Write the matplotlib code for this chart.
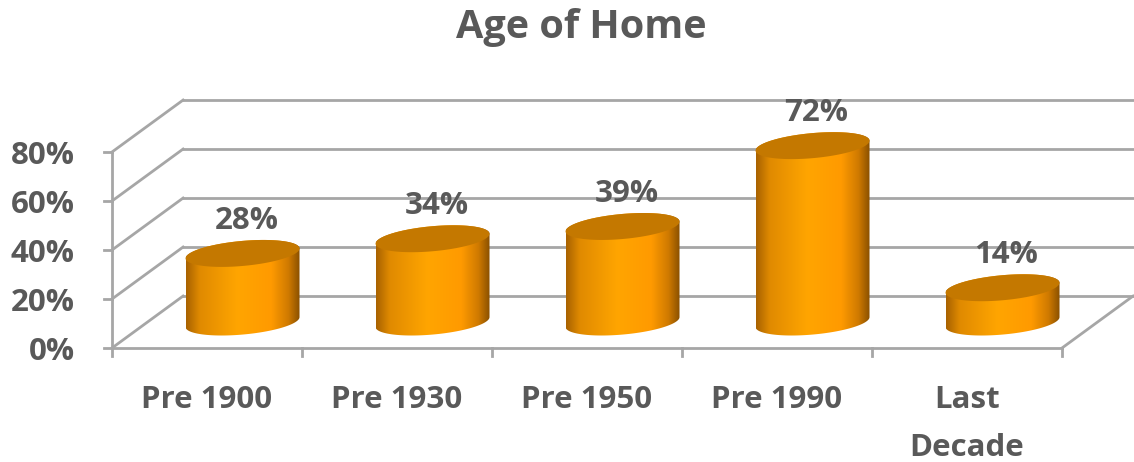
import numpy as np
import matplotlib.pyplot as plt
from matplotlib.patches import Polygon
from matplotlib.colors import LinearSegmentedColormap

# data
categories = ['Pre 1900', 'Pre 1930', 'Pre 1950', 'Pre 1990', 'Last\nDecade']
values = [28, 34, 39, 72, 14]
yticks = [0, 20, 40, 60, 80]
ytick_labels = ['0%', '20%', '40%', '60%', '80%']

plt.rcParams['font.family'] = ['Open Sans', 'DejaVu Sans']
TEXT = '#595959'
GRID = '#a6a6a6'
FS = 22.5

# oblique depth offset of the back wall (category units, percent units)
DX, DY = 0.374, 21.2
# cylinder cross-section: half width, skew, half height
RX, SKEW, RY = 0.279, 0.11, 5.5
PX = 1 / 2.45   # one pixel in percent units

side_cmap = LinearSegmentedColormap.from_list('side', [
    (0.0, '#a86200'), (0.12, '#e08a00'), (0.45, '#ffa500'),
    (0.75, '#ff9a00'), (0.9, '#cf7a00'), (1.0, '#8a5000')])
TOP = '#c47800'

fig = plt.figure(figsize=(11.34, 4.62), dpi=100)
ax = fig.add_axes([0, 0, 1, 1])
ax.axis('off')

x0, x1 = -0.5, len(categories) - 0.5
ymax = yticks[-1]

# back wall and left wall gridlines
for v, lab in zip(yticks, ytick_labels):
    ax.plot([x0 + DX, x1 + DX], [v + DY, v + DY], color=GRID, lw=2, zorder=1)
    ax.plot([x0, x0 + DX], [v, v + DY], color=GRID, lw=2, zorder=1)
    ax.plot([x0 - 0.042, x0], [v, v], color=GRID, lw=2, zorder=1)
    ax.text(x0 - 0.195, v - 12 * PX, lab, ha='right', va='baseline',
            fontsize=FS, fontweight='bold', color=TEXT)

# front axis + floor
ax.plot([x0, x0], [0, ymax], color=GRID, lw=2, zorder=1)
ax.plot([x0, x1], [0, 0], color=GRID, lw=2, zorder=1)
ax.plot([x1, x1 + DX], [0, DY], color=GRID, lw=2, zorder=1)
for b in np.arange(x0, x1 + 0.01, 1.0):
    ax.plot([b, b], [0, -8 * PX], color=GRID, lw=2, zorder=1)

t_r = np.arctan2(SKEW, RX)
half_w = np.hypot(RX, SKEW)


def ring(cx, cy, t):
    return cx + RX * np.cos(t) + SKEW * np.sin(t), cy + RY * np.sin(t)


gradient = np.linspace(0, 1, 256).reshape(1, -1)

for i, v in enumerate(values):
    cx = i + DX / 2
    cy = DY / 2
    tb = np.linspace(t_r - np.pi, t_r, 120)
    tt = np.linspace(t_r, t_r + np.pi, 120)
    bx, by = ring(cx, cy, tb)
    tx, ty = ring(cx, cy + v, tt)
    side = Polygon(np.column_stack([np.r_[bx, tx], np.r_[by, ty]]),
                   closed=True, facecolor='none', edgecolor='none')
    ax.add_patch(side)
    im = ax.imshow(gradient, cmap=side_cmap, aspect='auto', zorder=2,
                   extent=[cx - half_w, cx + half_w, cy - RY - 1, cy + v + RY + 1],
                   interpolation='bilinear')
    im.set_clip_path(side)

    ta = np.linspace(0, 2 * np.pi, 200)
    ex, ey = ring(cx, cy + v, ta)
    ax.add_patch(Polygon(np.column_stack([ex, ey]), closed=True,
                         facecolor=TOP, edgecolor='none', zorder=3))

    ax.text(cx + 0.02, v + cy + RY + 11 * PX, f'{v}%', ha='center', va='baseline',
            fontsize=FS, fontweight='bold', color=TEXT, zorder=4)

# category labels, one text per line (48 px line pitch)
for i, lab in enumerate(categories):
    for k, line in enumerate(lab.split('\n')):
        ax.text(i, -(60 + 48 * k) * PX, line, ha='center', va='baseline',
                fontsize=FS, fontweight='bold', color=TEXT)

ax.text(581 / 1134, 1 - 38 / 462, 'Age of Home', transform=fig.transFigure,
        ha='center', va='baseline', fontsize=28.5, fontweight='bold', color=TEXT)

ax.set_xlim(x0 - 112 / 190, x0 + 1022 / 190)
ax.set_ylim(-114 * PX, 348 * PX)

fig.savefig('out.png', dpi=100)
